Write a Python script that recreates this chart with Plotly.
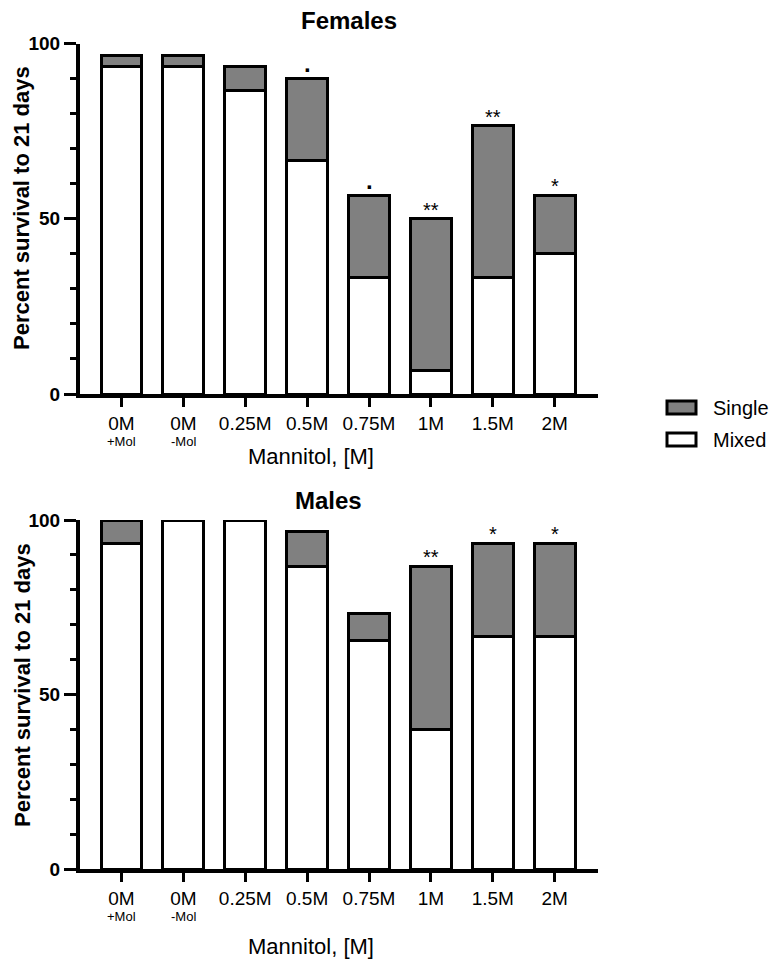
import plotly.graph_objects as go
from plotly.subplots import make_subplots

# ----------------------------------------------------
# Data
# ----------------------------------------------------

categories = ["0M +Mol", "0M -Mol", "0.25M", "0.5M", "0.75M", "1M", "1.5M", "2M"]
tick_main = ["0M", "0M", "0.25M", "0.5M", "0.75M", "1M", "1.5M", "2M"]
tick_sub = ["+Mol", "-Mol", "", "", "", "", "", ""]

female_mixed = [93.3, 93.3, 86.7, 66.7, 33.3, 6.7, 33.3, 40.0]
female_single = [3.3, 3.3, 6.7, 23.3, 23.3, 43.3, 43.3, 16.7]
female_sig = ["", "", "", ".", ".", "**", "**", "*"]

male_mixed = [93.3, 100.0, 100.0, 86.7, 65.5, 40.0, 66.7, 66.7]
male_single = [6.7, 0.0, 0.0, 10.0, 7.8, 46.7, 26.6, 26.6]
male_sig = ["", "", "", "", "", "**", "*", "*"]

FONT = "Liberation Sans, Arial, sans-serif"
GREY = "#808080"
W, H = 777, 959
OFF = 8  # the page body adds an 8px margin round the figure


def px(x):
    return (x - OFF) / W


def py(y):
    return 1 - (y - OFF) / H


fig = make_subplots(rows=2, cols=1)

panels = [
    (1, female_mixed, female_single, female_sig, 441),
    (2, male_mixed, male_single, male_sig, 916),
]

# ----------------------------------------------------
# Stacked bars
# ----------------------------------------------------

for row, mixed, single, sig, sub_y in panels:
    fig.add_trace(
        go.Bar(
            x=categories,
            y=mixed,
            name="Mixed",
            width=0.66,
            marker=dict(color="white", line=dict(color="black", width=3)),
            showlegend=False,
        ),
        row=row, col=1,
    )
    fig.add_trace(
        go.Bar(
            x=categories,
            y=[v if v else None for v in single],
            name="Single",
            width=0.66,
            marker=dict(color=GREY, line=dict(color="black", width=3)),
            showlegend=False,
        ),
        row=row, col=1,
    )
    ax = "" if row == 1 else "2"
    for c, m, s, t in zip(categories, mixed, single, sig):
        if t == ".":
            fig.add_annotation(
                x=c, y=m + s, xref="x" + ax, yref="y" + ax,
                text="<b>.</b>", showarrow=False, yanchor="bottom", yshift=0,
                font=dict(family=FONT, size=24, color="black"),
            )
        elif t:
            fig.add_annotation(
                x=c, y=m + s, xref="x" + ax, yref="y" + ax,
                text=t, showarrow=False, yanchor="bottom", yshift=-4,
                font=dict(family=FONT, size=20, color="black"),
            )
    # small second line under the first two tick labels
    for c, s in zip(categories, tick_sub):
        if s:
            fig.add_annotation(
                x=c, y=py(sub_y), xref="x" + ax, yref="paper",
                text=s, showarrow=False, yanchor="middle",
                font=dict(family=FONT, size=13, color="black"),
            )

# ----------------------------------------------------
# Axes
# ----------------------------------------------------

axis_x = dict(
    range=[-0.67, 7.70],
    tickmode="array",
    tickvals=categories,
    ticktext=tick_main,
    showline=True, linecolor="black", linewidth=4,
    ticks="outside", ticklen=9, tickwidth=3, tickcolor="black",
    tickfont=dict(family=FONT, size=19, color="black"),
    showgrid=False, zeroline=False, automargin=False,
    domain=[px(80), px(598)],
)
axis_y = dict(
    range=[0, 100],
    tickvals=[0, 50, 100],
    ticktext=["<b>0</b>", "<b>50</b>", "<b>100</b>"],
    showline=True, linecolor="black", linewidth=4,
    ticks="outside", ticklen=12, tickwidth=3, tickcolor="black",
    minor=dict(tickvals=list(range(10, 100, 10)), ticks="outside",
               ticklen=6, tickwidth=3, tickcolor="black"),
    tickfont=dict(family=FONT, size=19, color="black"),
    showgrid=False, zeroline=False, automargin=False,
)

fig.update_layout(
    xaxis=axis_x,
    xaxis2=axis_x,
    yaxis=dict(axis_y, domain=[py(394), py(43.5)]),
    yaxis2=dict(axis_y, domain=[py(869.3), py(520)]),
)

# ----------------------------------------------------
# Titles and axis titles
# ----------------------------------------------------

texts = [
    ("<b>Females</b>", 349, 21, 24, 0),
    ("<b>Males</b>", 328, 500, 24, 0),
    ("Mannitol, [M]", 311, 456, 22, 0),
    ("Mannitol, [M]", 311, 946, 22, 0),
    ("<b>Percent survival to 21 days</b>", 22, 208, 22, -90),
    ("<b>Percent survival to 21 days</b>", 22, 685, 22, -90),
]
for t, x, y, size, ang in texts:
    fig.add_annotation(
        x=px(x), y=py(y), xref="paper", yref="paper",
        text=t, showarrow=False, textangle=ang,
        xanchor="center", yanchor="middle",
        font=dict(family=FONT, size=size, color="black"),
    )

# ----------------------------------------------------
# Legend (drawn by hand to get the wide swatches)
# ----------------------------------------------------

for label, fill, y0 in [("Single", GREY, 401), ("Mixed", "white", 433)]:
    fig.add_shape(
        type="rect", xref="paper", yref="paper",
        x0=px(667), x1=px(696), y0=py(y0), y1=py(y0 + 13),
        fillcolor=fill, opacity=1, layer="above",
        line=dict(color="black", width=3),
    )
    fig.add_annotation(
        x=px(711), y=py(y0 + 6.5), xref="paper", yref="paper",
        text=label, showarrow=False, xanchor="left", yanchor="middle",
        font=dict(family=FONT, size=20, color="black"),
    )

# ----------------------------------------------------
# Layout
# ----------------------------------------------------

fig.update_layout(
    template="simple_white",
    barmode="stack",
    width=W,
    height=H,
    margin=dict(l=0, r=0, t=0, b=0, autoexpand=False),
    plot_bgcolor="white",
    paper_bgcolor="white",
    showlegend=False,
)

fig.write_html("out.html")
